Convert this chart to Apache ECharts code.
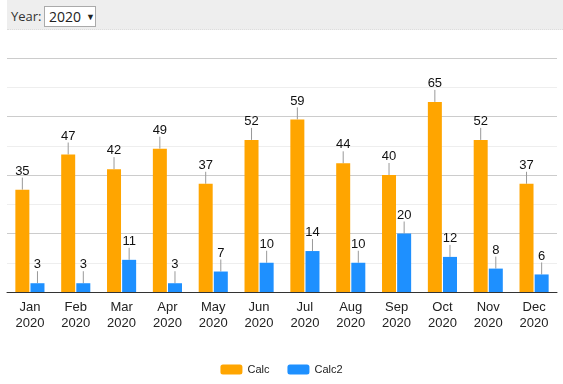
<!DOCTYPE html>
<html><head><meta charset="utf-8">
<script src="https://cdn.jsdelivr.net/npm/echarts@6/dist/echarts.min.js"></script>
<style>
html,body{margin:0;padding:0;width:563px;height:384px;overflow:hidden;background:#fff;font-family:Arial,"Liberation Sans",sans-serif;}
#bar{position:absolute;left:7px;top:0;width:556px;height:29px;background:#eeeeee;border-bottom:1px dotted #dddddd;}
#lbl{position:absolute;left:4px;top:7px;font-size:13px;color:#333;font-family:"Open Sans",sans-serif;}
#sel{position:absolute;left:37px;top:6px;width:46px;height:19px;background:#fff;border:1px solid #aaa;font-size:14px;color:#222;line-height:20px;padding-left:4px;box-sizing:content-box;font-family:"Open Sans",sans-serif;}
#sel span{font-size:9px;margin-left:5px;position:relative;top:-2px;}
#chart{position:absolute;left:0;top:0;width:563px;height:384px;}
</style></head>
<body>
<div id="chart"></div>
<div id="bar"><div id="lbl">Year:</div><div id="sel">2020<span>▼</span></div></div>
<script>
const categories = ['Jan\n2020','Feb\n2020','Mar\n2020','Apr\n2020','May\n2020','Jun\n2020','Jul\n2020','Aug\n2020','Sep\n2020','Oct\n2020','Nov\n2020','Dec\n2020'];
const calc = [35,47,42,49,37,52,59,44,40,65,52,37];
const calc2 = [3,3,11,3,7,10,14,10,20,12,8,6];

const chart = echarts.init(document.getElementById('chart'), null, {renderer:'canvas'});
const labelCfg = {show:true, position:'top', distance:0, color:'#111', fontSize:13, fontFamily:'Arial'};
const labelLayout = {dy:-12};
const labelLine = {show:true, lineStyle:{color:'#999', width:1}};
chart.setOption({
  animation:false,
  grid:{left:7, right:6, top:58, bottom:92, containLabel:false},
  legend:{top:364, padding:0, left:'center', itemWidth:22, itemHeight:10, itemGap:18,
    textStyle:{fontSize:11, color:'#222', fontFamily:'Arial'},
    data:['Calc','Calc2']},
  xAxis:{type:'category', data:categories,
    axisLine:{lineStyle:{color:'#333', width:1}},
    axisTick:{show:false},
    axisLabel:{color:'#222', fontSize:13, fontFamily:'Arial', lineHeight:16, margin:7}},
  yAxis:{type:'value', min:0, max:80, interval:20,
    axisLabel:{show:false}, axisLine:{show:false}, axisTick:{show:false},
    splitLine:{show:true, lineStyle:{color:'#cccccc', width:1}},
    minorTick:{show:false, splitNumber:2},
    minorSplitLine:{show:true, lineStyle:{color:'#eeeeee', width:1}}},
  series:[
    {name:'Calc', type:'bar', data:calc, barWidth:14, barGap:'8%', itemStyle:{color:'#FFA500'},
      label:labelCfg, labelLayout:labelLayout, labelLine:labelLine},
    {name:'Calc2', type:'bar', data:calc2, barWidth:14, barGap:'8%', itemStyle:{color:'#1E90FF'},
      label:labelCfg, labelLayout:labelLayout, labelLine:labelLine}
  ]
});
</script>
</body></html>
